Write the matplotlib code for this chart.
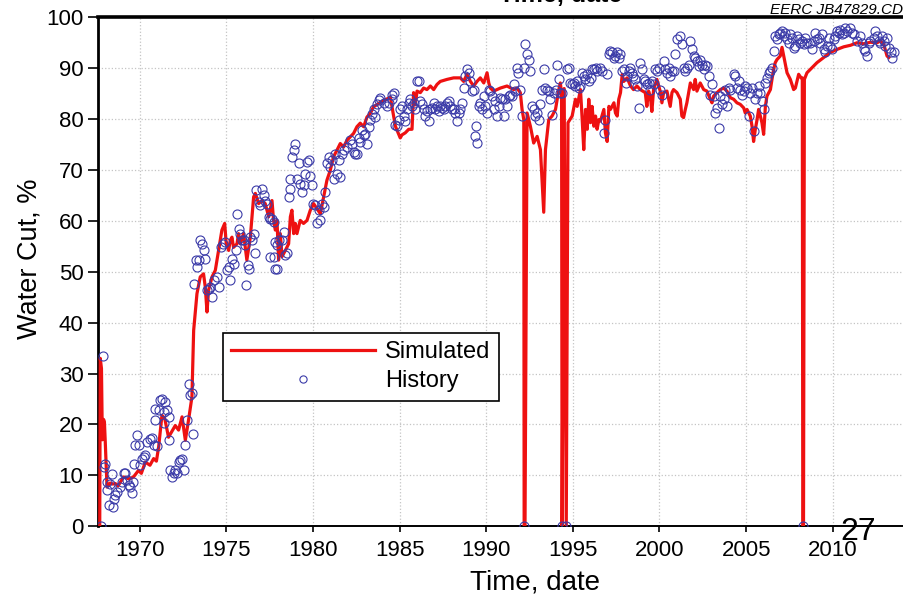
import matplotlib
matplotlib.use("Agg")
import matplotlib.pyplot as plt
from matplotlib.lines import Line2D

plt.rcParams['font.family'] = ['Liberation Sans', 'DejaVu Sans']

# simulated water cut (red line)
sim_year = [
    1967.70, 1967.73, 1967.80, 1967.85, 1967.92, 1967.97, 1968.02, 1968.12, 1968.30, 1968.45,
    1968.60, 1968.75, 1969.08, 1969.40, 1969.65, 1969.94, 1970.10, 1970.33, 1970.60, 1970.81,
    1970.97, 1971.10, 1971.29, 1971.45, 1971.67, 1971.86, 1972.06, 1972.25, 1972.45, 1972.64,
    1972.83, 1973.02, 1973.12, 1973.31, 1973.50, 1973.69, 1973.79, 1973.89, 1973.98, 1974.18,
    1974.37, 1974.56, 1974.75, 1974.91, 1975.00, 1975.14, 1975.23, 1975.33, 1975.42, 1975.62,
    1975.71, 1975.81, 1976.00, 1976.19, 1976.39, 1976.58, 1976.68, 1976.87, 1977.06, 1977.25,
    1977.45, 1977.64, 1977.73, 1977.83, 1977.93, 1978.02, 1978.12, 1978.22, 1978.41, 1978.60,
    1978.70, 1978.79, 1978.89, 1978.99, 1979.08, 1979.27, 1979.46, 1979.66, 1979.85, 1980.04,
    1980.43, 1980.62, 1980.81, 1981.00, 1981.19, 1981.39, 1981.58, 1981.77, 1981.96, 1982.35,
    1982.54, 1982.73, 1982.93, 1983.12, 1983.31, 1983.50, 1983.89, 1984.47, 1984.66, 1984.76,
    1985.04, 1985.14, 1985.33, 1985.53, 1985.72, 1985.81, 1985.91, 1986.01, 1986.20, 1986.39,
    1986.58, 1986.78, 1986.97, 1987.16, 1987.35, 1987.74, 1988.12, 1988.51, 1988.70, 1988.89,
    1989.09, 1989.28, 1989.47, 1989.66, 1989.86, 1990.05, 1990.15, 1990.24, 1990.43, 1990.63,
    1990.82, 1991.20, 1991.59, 1991.78, 1991.97, 1992.07, 1992.17, 1992.19, 1992.24, 1992.36,
    1992.55, 1992.74, 1992.94, 1993.13, 1993.32, 1993.42, 1993.61, 1993.80, 1994.00, 1994.19,
    1994.28, 1994.35, 1994.38, 1994.50, 1994.62, 1994.72, 1994.96, 1995.15, 1995.25, 1995.44,
    1995.54, 1995.63, 1995.73, 1995.83, 1995.92, 1996.02, 1996.11, 1996.21, 1996.31, 1996.40,
    1996.50, 1996.59, 1996.79, 1996.88, 1996.98, 1997.08, 1997.17, 1997.37, 1997.46, 1997.56,
    1997.65, 1997.75, 1997.85, 1997.94, 1998.13, 1998.33, 1998.50, 1998.70, 1998.89, 1999.18,
    1999.27, 1999.37, 1999.47, 1999.56, 1999.66, 1999.85, 2000.04, 2000.14, 2000.24, 2000.43,
    2000.62, 2000.72, 2000.81, 2001.01, 2001.20, 2001.29, 2001.39, 2001.49, 2001.58, 2001.68,
    2001.78, 2001.97, 2002.06, 2002.16, 2002.35, 2002.55, 2002.74, 2002.93, 2003.03, 2003.12,
    2003.32, 2003.51, 2003.70, 2003.89, 2004.09, 2004.28, 2004.47, 2004.66, 2004.86, 2004.95,
    2005.05, 2005.24, 2005.34, 2005.43, 2005.53, 2005.63, 2005.72, 2005.82, 2005.91, 2006.01,
    2006.11, 2006.20, 2006.40, 2006.49, 2006.59, 2006.68, 2006.78, 2006.97, 2007.07, 2007.17,
    2007.26, 2007.36, 2007.55, 2007.74, 2007.84, 2008.03, 2008.17, 2008.24, 2008.27, 2008.31,
    2008.36, 2008.51, 2008.80, 2009.09, 2009.48, 2009.86, 2010.25, 2010.63, 2011.02, 2011.40,
    2011.79, 2012.17, 2012.56, 2012.75, 2012.94, 2013.13, 2013.23,
]
sim_wc = [
    0.0, 33.0, 31.0, 17.0, 21.0, 20.5, 16.5, 7.7, 8.5, 8.3,
    8.4, 7.9, 9.7, 9.3, 9.7, 11.0, 10.4, 12.6, 12.0, 13.3,
    12.8, 15.6, 21.8, 21.2, 17.5, 18.6, 19.8, 18.9, 21.5, 16.9,
    21.0, 25.4, 38.5, 45.7, 49.0, 49.6, 47.0, 42.1, 46.4, 49.0,
    50.3, 54.2, 58.2, 59.5, 55.5, 54.2, 56.2, 56.8, 54.8, 55.5,
    57.5, 55.5, 57.5, 52.3, 56.8, 64.7, 65.4, 63.4, 64.0, 63.4,
    60.8, 64.0, 60.1, 58.2, 60.1, 52.3, 57.5, 53.0, 54.2, 55.5,
    60.8, 62.1, 57.5, 59.5, 57.5, 60.1, 59.5, 60.1, 62.1, 63.4,
    61.4, 64.7, 68.0, 69.9, 72.6, 73.9, 75.2, 74.5, 75.8, 77.2,
    78.5, 79.2, 78.5, 80.4, 81.1, 82.4, 83.3, 84.3, 80.6, 78.6,
    76.3, 76.9, 77.3, 78.0, 78.0, 85.2, 82.8, 85.5, 85.2, 86.1,
    85.8, 86.5, 85.8, 86.8, 87.4, 87.8, 88.1, 88.1, 87.4, 88.8,
    87.4, 86.5, 87.4, 88.1, 87.1, 89.1, 87.1, 86.1, 85.5, 85.8,
    86.1, 86.5, 85.8, 86.1, 85.2, 81.9, 79.9, 0.0, 0.0, 81.2,
    78.6, 75.3, 76.6, 74.0, 61.7, 74.0, 79.9, 80.6, 81.9, 85.8,
    87.1, 85.0, 0.0, 86.0, 0.0, 79.3, 80.6, 83.9, 82.5, 85.8,
    79.9, 74.0, 81.9, 78.0, 83.9, 79.3, 82.5, 78.6, 80.6, 78.0,
    79.9, 79.6, 81.9, 77.3, 75.6, 82.5, 81.9, 83.2, 81.2, 80.6,
    83.9, 85.2, 88.8, 87.4, 88.1, 86.5, 85.8, 86.5, 85.8, 85.2,
    82.5, 85.5, 84.5, 81.5, 85.8, 87.8, 85.5, 83.2, 85.2, 85.5,
    82.5, 85.2, 85.8, 85.2, 83.9, 80.6, 80.3, 81.9, 83.2, 85.2,
    87.1, 85.8, 87.8, 85.5, 87.1, 85.8, 85.5, 83.9, 83.2, 84.5,
    85.2, 85.8, 86.1, 85.5, 84.2, 83.9, 83.2, 82.9, 82.2, 81.2,
    81.9, 80.6, 78.6, 75.6, 78.0, 79.9, 81.9, 80.6, 79.3, 77.0,
    82.5, 84.5, 85.8, 87.8, 89.8, 91.1, 91.7, 92.4, 94.1, 92.4,
    90.8, 89.1, 87.8, 85.8, 86.1, 88.8, 88.1, 88.1, 0.0, 0.0,
    87.8, 89.1, 90.1, 91.1, 92.1, 93.1, 93.7, 94.2, 94.5, 95.0,
    94.8, 95.1, 95.0, 95.4, 94.7, 92.4, 92.1,
]

# history water cut (open circles)
hist_year = [
    1967.79, 1967.87, 1967.92, 1968.02, 1968.12, 1968.12, 1968.21, 1968.27, 1968.41, 1968.46,
    1968.50, 1968.60, 1968.69, 1968.85, 1968.98, 1969.08, 1969.17, 1969.27, 1969.37, 1969.46,
    1969.56, 1969.62, 1969.66, 1969.75, 1969.85, 1969.94, 1970.04, 1970.14, 1970.23, 1970.33,
    1970.43, 1970.62, 1970.71, 1970.81, 1970.91, 1970.91, 1971.00, 1971.10, 1971.19, 1971.29,
    1971.39, 1971.39, 1971.48, 1971.58, 1971.67, 1971.71, 1971.77, 1971.87, 1971.96, 1972.06,
    1972.16, 1972.25, 1972.35, 1972.44, 1972.54, 1972.64, 1972.73, 1972.83, 1972.89, 1973.02,
    1973.08,
    1973.14, 1973.26, 1973.33, 1973.40, 1973.50, 1973.60, 1973.69, 1973.79, 1973.89, 1973.98,
    1974.08, 1974.18, 1974.27, 1974.47, 1974.56, 1974.70, 1974.81, 1974.94, 1975.04, 1975.14,
    1975.23, 1975.33, 1975.42, 1975.56, 1975.62, 1975.71, 1975.81, 1975.90, 1976.00, 1976.10,
    1976.16, 1976.24, 1976.31, 1976.39, 1976.49, 1976.58, 1976.64, 1976.70, 1976.87, 1976.96,
    1977.06, 1977.16, 1977.25, 1977.35, 1977.45, 1977.54, 1977.64, 1977.73, 1977.54, 1977.73,
    1977.83, 1977.93, 1977.83, 1977.93, 1978.02, 1978.22, 1978.31, 1978.41, 1978.50, 1978.60,
    1978.66, 1978.70, 1978.79, 1978.89, 1978.99, 1979.08, 1979.18, 1979.27, 1979.37, 1979.46,
    1979.56, 1979.66, 1979.75, 1979.85, 1979.95, 1980.00, 1980.14, 1980.23, 1980.33, 1980.43,
    1980.52, 1980.62, 1980.72, 1980.81, 1980.91, 1981.00, 1981.10, 1981.19, 1981.29, 1981.39,
    1981.48, 1981.58, 1981.68, 1981.77, 1981.96, 1982.16, 1982.25, 1982.35, 1982.45, 1982.54,
    1982.64, 1982.73, 1982.83, 1982.93, 1983.02, 1983.12, 1983.22, 1983.31, 1983.41, 1983.50,
    1983.60, 1983.70, 1983.79,
    1983.89, 1984.08, 1984.28, 1984.37, 1984.56, 1984.66, 1984.56, 1984.76, 1984.85, 1984.95,
    1985.04, 1985.14, 1985.24, 1985.33, 1985.43, 1985.53, 1985.62, 1985.72, 1985.81, 1985.91,
    1986.01, 1986.10, 1986.20, 1986.30, 1986.39, 1986.49, 1986.58, 1986.68, 1986.78, 1986.87,
    1986.97, 1987.07, 1987.16, 1987.26, 1987.35, 1987.45, 1987.55, 1987.64, 1987.74, 1987.84,
    1987.93, 1988.03, 1988.12, 1988.22, 1988.32, 1988.41, 1988.51, 1988.61, 1988.70, 1988.80,
    1988.89, 1988.99, 1989.09, 1989.18, 1989.28, 1989.38, 1989.43, 1989.47, 1989.57, 1989.66,
    1989.76, 1989.86, 1989.95, 1990.05, 1990.15, 1990.24, 1990.34, 1990.43, 1990.53, 1990.63,
    1990.72, 1990.82, 1990.92, 1991.01, 1991.11, 1991.20, 1991.30, 1991.40, 1991.49, 1991.59,
    1991.69, 1991.78, 1991.82, 1991.97, 1992.07, 1992.16, 1992.17, 1992.26, 1992.36, 1992.46,
    1992.55, 1992.65, 1992.74, 1992.84, 1992.94, 1993.03, 1993.13, 1993.23, 1993.32, 1993.42,
    1993.51, 1993.61, 1993.71, 1993.80, 1993.90, 1994.00, 1994.09, 1994.19, 1994.28, 1994.37,
    1994.38, 1994.62, 1994.67, 1994.77, 1994.86, 1994.96, 1995.06, 1995.15, 1995.25, 1995.34,
    1995.44, 1995.54, 1995.63, 1995.73, 1995.83, 1995.92, 1996.02, 1996.11, 1996.21, 1996.31,
    1996.40, 1996.59, 1996.69, 1996.79, 1996.88, 1996.98, 1997.08, 1997.17, 1997.27, 1997.37,
    1997.46, 1997.56, 1997.65, 1997.75, 1997.85, 1997.94, 1998.04, 1998.13, 1998.23,
    1998.31, 1998.41, 1998.50, 1998.60, 1998.70, 1998.79, 1998.89, 1998.98, 1999.08, 1999.18,
    1999.27, 1999.37, 1999.47, 1999.56, 1999.66, 1999.75, 1999.85, 1999.95, 2000.04, 2000.14,
    2000.24, 2000.33, 2000.43, 2000.52, 2000.62, 2000.72, 2000.81, 2000.91, 2001.01, 2001.20,
    2001.29, 2001.39, 2001.49, 2001.58, 2001.68, 2001.78, 2001.87, 2001.97, 2002.06, 2002.16,
    2002.26, 2002.35, 2002.45, 2002.55, 2002.64, 2002.74, 2002.83, 2002.93, 2003.03, 2003.12,
    2003.22, 2003.32, 2003.41, 2003.51, 2003.60, 2003.70, 2003.80, 2003.89, 2003.99, 2004.09,
    2004.28, 2004.37, 2004.47, 2004.57, 2004.66, 2004.76, 2004.86, 2004.95, 2005.05, 2005.14,
    2005.24, 2005.34, 2005.43, 2005.53, 2005.63, 2005.72, 2005.82, 2005.91, 2006.01, 2006.11,
    2006.20, 2006.30, 2006.40, 2006.49, 2006.59, 2006.68, 2006.78, 2006.88, 2006.97, 2007.07,
    2007.17, 2007.26, 2007.36, 2007.45, 2007.55, 2007.65, 2007.74, 2007.84, 2007.94, 2008.03,
    2008.13, 2008.22, 2008.28, 2008.32, 2008.42, 2008.51, 2008.71, 2008.80, 2008.90, 2008.99,
    2009.09, 2009.19, 2009.28, 2009.38, 2009.48, 2009.57, 2009.67, 2009.76, 2009.86, 2009.96,
    2010.05, 2010.15, 2010.25, 2010.34, 2010.44, 2010.53, 2010.63, 2010.73, 2010.82, 2011.02,
    2011.11, 2011.21, 2011.40, 2011.59, 2011.69, 2011.79, 2011.88, 2011.98, 2012.07, 2012.17,
    2012.36, 2012.46, 2012.56, 2012.65, 2012.75, 2012.84, 2012.94, 2013.04, 2013.13, 2013.23,
    2013.33, 2013.42, 2013.52,
]
hist_wc = [
    0.0, 33.5, 11.7, 12.3, 7.1, 8.7, 4.1, 8.4, 10.2, 3.7,
    5.4, 6.1, 6.8, 7.7, 8.7, 10.4, 10.5, 9.1, 8.1, 7.7,
    6.6, 8.7, 12.3, 15.9, 17.9, 15.9, 12.0, 13.3, 13.6, 14.0,
    16.6, 17.1, 17.3, 15.9, 20.9, 23.0, 15.7, 22.8, 24.8, 25.1,
    22.5, 20.2, 24.5, 22.8, 21.5, 16.9, 11.0, 9.7, 10.4, 11.0,
    10.4, 12.7, 13.0, 13.3, 11.0, 15.9, 20.9, 28.0, 25.8, 26.1,
    18.2,
    47.7, 52.3, 51.0, 52.3, 56.2, 55.5, 54.2, 52.6, 46.4, 46.7,
    47.0, 45.0, 48.4, 49.0, 47.0, 54.8, 55.5, 55.8, 50.3, 51.0,
    48.4, 52.6, 51.6, 54.2, 61.4, 58.5, 57.5, 56.2, 56.2, 55.2,
    47.4, 51.3, 50.6, 56.8, 56.2, 57.5, 53.6, 66.0, 63.7, 63.1,
    66.3, 65.0, 64.0, 63.4, 60.8, 60.4, 60.4, 59.8, 52.9, 52.9,
    50.6, 50.6, 55.8, 55.2, 56.2, 56.2, 57.8, 53.3, 53.6, 64.7,
    66.3, 68.3, 72.6, 73.9, 75.2, 68.3, 71.3, 67.3, 65.7, 67.0,
    69.3, 71.6, 71.9, 68.9, 67.0, 63.4, 63.1, 59.5, 62.1, 60.1,
    63.4, 62.7, 65.7, 71.3, 72.6, 70.6, 71.9, 68.3, 73.2, 69.3,
    71.9, 68.6, 73.2, 73.9, 74.5, 75.8, 75.2, 73.5, 73.2, 73.2,
    76.2, 75.5, 77.8, 76.8, 77.1, 75.2, 78.5, 79.8, 81.1, 82.0,
    80.4, 83.0, 83.7,
    84.2, 83.2, 82.5, 83.2, 84.8, 85.2, 83.9, 78.9, 78.6, 79.9,
    81.9, 82.5, 80.6, 79.6, 81.9, 83.2, 83.9, 82.5, 83.2, 81.9,
    87.5, 87.5, 83.5, 82.9, 81.9, 80.6, 81.6, 79.6, 81.9, 82.2,
    83.2, 81.9, 82.5, 81.6, 82.5, 82.2, 81.9, 82.5, 83.2, 83.5,
    82.5, 81.9, 81.9, 81.2, 79.6, 81.2, 81.9, 83.2, 86.2, 88.5,
    89.8, 89.1, 87.5, 85.5, 85.8, 76.6, 78.6, 75.3, 82.5, 83.2,
    81.9, 84.5, 82.5, 81.2, 85.8, 85.5, 84.5, 81.9, 83.5, 80.6,
    82.5, 84.2, 83.9, 80.6, 83.9, 82.5, 84.5, 84.8, 84.5, 86.8,
    85.5, 90.1, 89.1, 85.8, 80.6, 0.0, 90.1, 94.7, 92.7, 91.7,
    89.4, 82.5, 81.9, 80.6, 81.2, 79.9, 82.9, 85.8, 89.8, 86.2,
    85.8, 85.5, 83.9, 80.9, 85.2, 85.8, 90.7, 87.8, 85.2, 0.0,
    85.2, 0.0, 89.8, 90.1, 87.1, 86.8, 87.1, 86.5, 87.5, 86.2,
    86.5, 89.1, 88.5, 87.8, 88.8, 87.5, 88.1, 89.8, 89.8, 90.1,
    89.4, 90.1, 89.4, 77.3, 79.9, 88.8, 92.7, 93.4, 93.1, 92.1,
    92.4, 93.1, 92.1, 92.7, 89.4, 89.8, 87.1, 88.5, 89.4,
    90.1, 89.1, 88.5, 87.8, 86.5, 82.2, 91.1, 89.8, 87.8, 87.5,
    86.8, 87.1, 85.8, 87.5, 86.8, 89.8, 89.4, 90.1, 85.8, 84.8,
    91.4, 89.8, 89.1, 90.1, 88.5, 89.4, 89.4, 92.7, 95.7, 96.3,
    94.7, 90.1, 89.4, 90.1, 90.7, 95.3, 93.7, 92.4, 92.1, 91.4,
    90.4, 91.7, 90.7, 89.8, 90.7, 90.4, 88.5, 84.8, 86.8, 84.5,
    81.2, 82.2, 78.3, 84.5, 82.9, 83.9, 85.8, 82.5, 86.2, 85.8,
    88.8, 88.5, 86.2, 87.5, 85.8, 84.8, 85.5, 86.5, 86.2, 80.6,
    85.2, 86.2, 77.6, 83.9, 85.2, 86.5, 85.2, 83.5, 81.9, 87.1,
    88.1, 89.1, 89.4, 90.1, 93.4, 96.3, 95.7, 96.7, 97.0, 97.3,
    96.3, 97.0, 95.7, 95.0, 96.7, 96.0, 94.0, 94.4, 96.3, 95.7,
    95.0, 95.3, 0.0, 94.7, 96.0, 95.0, 95.0, 93.7, 95.3, 97.0,
    95.7, 96.0, 95.0, 96.7, 93.7, 93.1, 94.4, 96.0, 94.4, 93.7,
    95.7, 96.3, 97.3, 97.0, 97.6, 96.7, 97.0, 97.9, 97.3, 97.9,
    97.0, 96.7, 95.3, 96.3, 95.0, 93.7, 93.4, 92.4, 95.0, 95.3,
    96.0, 97.3, 96.3, 95.3, 95.0, 96.3, 95.3, 94.4, 96.0, 94.0,
    93.1, 92.1, 93.1,
]

x_ticks = [1970, 1975, 1980, 1985, 1990, 1995, 2000, 2005, 2010]
y_ticks = [0, 10, 20, 30, 40, 50, 60, 70, 80, 90, 100]

W, H = 904, 598
fig = plt.figure(figsize=(W / 100, H / 100), dpi=100)
x0, x1 = 1967.6, 2015.0
px_per_year = 17.33
ax_w = (x1 - x0) * px_per_year
ax = fig.add_axes([98 / W, 71.7 / H, ax_w / W, 509 / H])

ax.plot(sim_year, sim_wc, color='#ee1111', lw=2.3, zorder=3, label='Simulated')
ax.plot(hist_year, hist_wc, ls='none', marker='o', ms=6.5, mfc='none',
        mec='#3b3ba8', mew=0.8, zorder=4, label='History')

ax.set_xlim(x0, x1)
ax.set_ylim(0, 100)
ax.set_xticks(x_ticks)
ax.set_yticks(y_ticks)
ax.grid(True, color='#c4c4c4', ls=':', lw=0.9)
ax.set_axisbelow(True)

ax.tick_params(axis='x', direction='out', length=4, width=1.2, pad=6, labelsize=16)
ax.tick_params(axis='y', direction='out', length=7.5, width=1.2, pad=3, labelsize=16)
ax.spines['left'].set_linewidth(2.0)
ax.spines['top'].set_linewidth(2.6)
ax.spines['bottom'].set_linewidth(1.4)
ax.spines['right'].set_visible(False)

ax.set_xlabel('Time, date', fontsize=20)
ax.xaxis.set_label_coords((535 - 98) / ax_w, -0.085)
ax.set_ylabel('Water Cut, %', fontsize=19.5)
ax.yaxis.set_label_coords(-0.067, 0.525)

leg = ax.legend(loc='upper left', bbox_to_anchor=(223 / W, 1 - 333 / H),
                bbox_transform=fig.transFigure, borderaxespad=0, fontsize=17,
                handlelength=6.1, handletextpad=0.42, labelspacing=0.3,
                borderpad=0.35, markerscale=0.8, fancybox=False, framealpha=1,
                edgecolor='black')
leg.get_frame().set_linewidth(1.2)

# cut-off title and slide marks
fig.text(561 / W, 1 - 2 / H, 'Time, date', ha='center', va='baseline',
         fontsize=18, fontweight='bold')
fig.text(770 / W, 1 - 14 / H, 'EERC JB47829.CDR', ha='left', va='baseline',
         fontsize=11, style='italic')
fig.add_artist(Line2D([770 / W, 1.0], [1 - 15.5 / H, 1 - 15.5 / H], color='black', lw=0.8))
fig.text(840 / W, 1 - 540 / H, '27', ha='left', va='baseline', fontsize=23)

fig.savefig('out.png', dpi=100)
